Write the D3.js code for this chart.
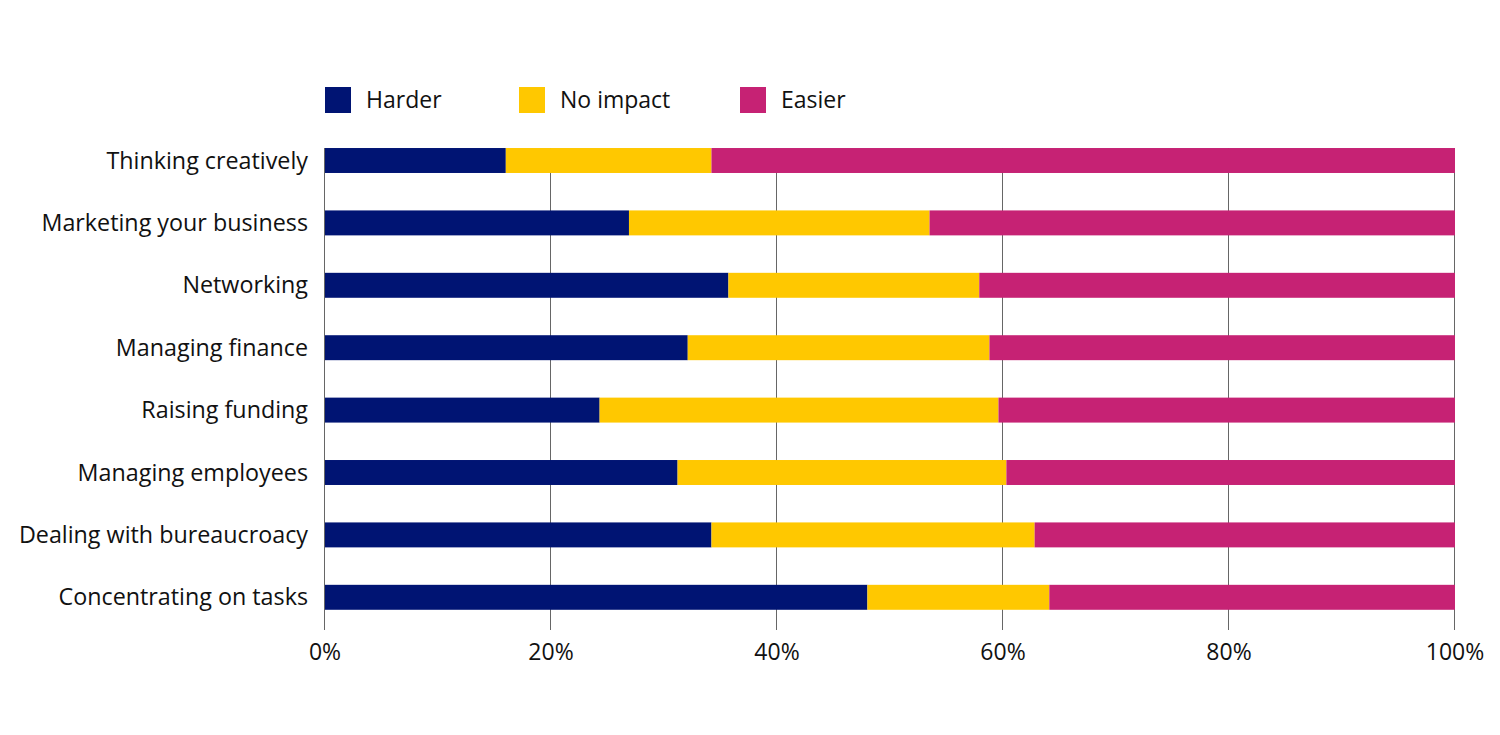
<!DOCTYPE html>
<html>
<head>
  <meta charset="UTF-8">
  <style>
    body { margin: 0; background: #fff; }
    text { font-family: "Open Sans", Lato, sans-serif; fill: #111; }
  </style>
</head>
<body>
<svg></svg>
<script src="https://d3js.org/d3.v7.min.js"></script>
<script>

let width = 1500, height = 735;

// data (percent)
let categories = ["Thinking creatively", "Marketing your business", "Networking", "Managing finance",
    "Raising funding", "Managing employees", "Dealing with bureaucroacy", "Concentrating on tasks"];
let harder   = [16.0, 26.9, 35.7, 32.1, 24.3, 31.2, 34.2, 48.0];
let noImpact = [18.2, 26.6, 22.2, 26.7, 35.3, 29.1, 28.6, 16.1];
let easier   = [65.8, 46.5, 42.1, 41.2, 40.4, 39.7, 37.2, 35.9];
let seriesNames = ["Harder", "No impact", "Easier"];
let ticks = [0, 20, 40, 60, 80, 100];

let svg = d3.select("svg")
    .attr("width", width)
    .attr("height", height);

let x = d3.scaleLinear().domain([0, 100]).range([325, 1455]);
let y = d3.scaleBand().domain(categories).range([129.3, 628.5]).paddingInner(0.6).paddingOuter(0.3);

let colorScale = d3.scaleOrdinal()
    .domain(seriesNames)
    .range(["#001473", "#ffc800", "#c62274"]);

let rows = categories.map((c, i) => ({cat: c, "Harder": harder[i], "No impact": noImpact[i], "Easier": easier[i]}));
let stacked = d3.stack().keys(seriesNames)(rows);

// gridlines
svg.append("g")
    .selectAll("line")
    .data(ticks)
    .enter()
    .append("line")
    .attr("x1", d => Math.round(x(d)) - 0.5).attr("x2", d => Math.round(x(d)) - 0.5)
    .attr("y1", 148).attr("y2", 630)
    .attr("stroke", "#666")
    .attr("stroke-width", 1);

// bars
svg.append("g")
    .selectAll("g")
    .data(stacked)
    .enter()
    .append("g")
    .attr("fill", d => colorScale(d.key))
    .selectAll("rect")
    .data(d => d)
    .enter()
    .append("rect")
    .attr("x", d => x(d[0]))
    .attr("width", d => x(d[1]) - x(d[0]))
    .attr("y", d => y(d.data.cat))
    .attr("height", y.bandwidth());

// category labels
svg.append("g")
    .selectAll("text")
    .data(categories)
    .enter()
    .append("text")
    .attr("x", 308)
    .attr("y", d => y(d) + y.bandwidth() / 2)
    .attr("dy", "0.35em")
    .attr("text-anchor", "end")
    .style("font-size", "23.3px")
    .text(d => d);

// x tick labels
svg.append("g")
    .selectAll("text")
    .data(ticks)
    .enter()
    .append("text")
    .attr("x", d => x(d))
    .attr("y", 660)
    .attr("text-anchor", "middle")
    .style("font-size", "23px")
    .text(d => d + "%");

// legend
let legendX = [325, 519, 740];
let legend = svg.append("g")
    .selectAll("g")
    .data(seriesNames)
    .enter()
    .append("g")
    .attr("transform", (d, i) => "translate(" + legendX[i] + ",87)");
legend.append("rect")
    .attr("width", 26)
    .attr("height", 26)
    .attr("fill", d => colorScale(d));
legend.append("text")
    .attr("x", 41)
    .attr("y", 13)
    .attr("dy", "0.36em")
    .style("font-size", "23px")
    .text(d => d);

</script>
</body>
</html>
